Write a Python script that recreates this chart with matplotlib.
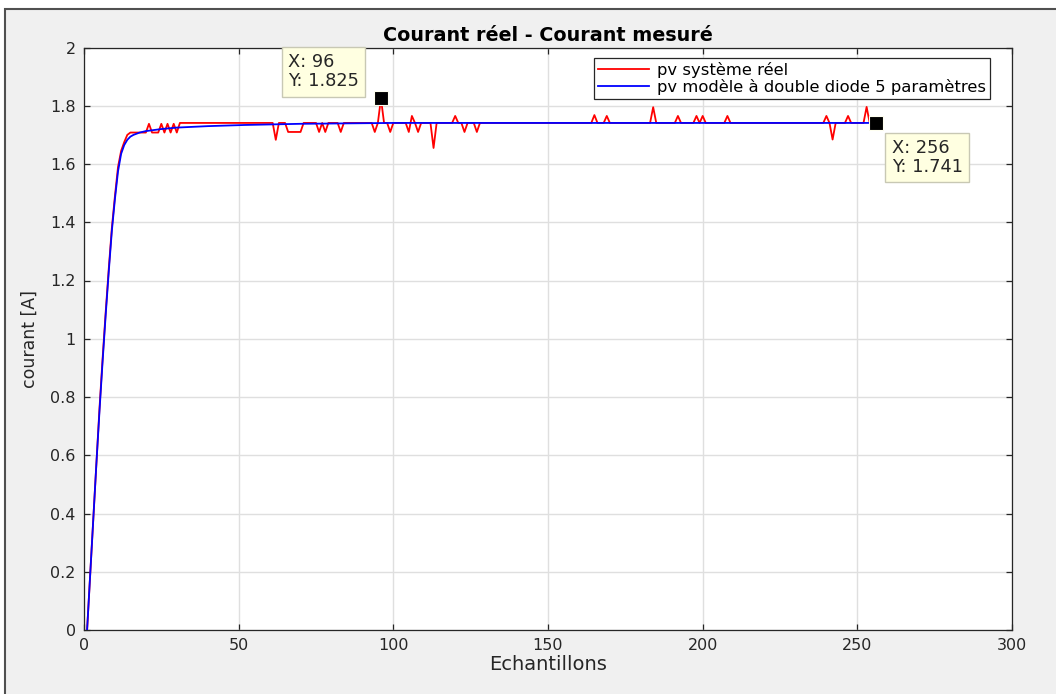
import matplotlib
matplotlib.use("Agg")
import matplotlib.pyplot as plt
from matplotlib.patches import Rectangle

# ---------------- data ----------------
red_x = [1, 2, 3, 4, 5, 6, 7, 8, 9, 10, 11, 12, 13, 14, 15, 20, 21, 22, 24, 25, 26, 27, 28, 29, 30, 31,
         61, 62, 63, 65, 66, 70, 71,
         75, 76, 77, 78, 79,
         82, 83, 84,
         93, 94, 95, 96, 97, 98, 99, 100,
         104, 105, 106, 107, 108, 109,
         112, 113, 114,
         119, 120, 121, 122, 123, 124, 126, 127, 128,
         164, 165, 166, 168, 169, 170,
         183, 184, 185,
         191, 192, 193,
         197, 198, 199, 200, 201,
         207, 208, 209,
         239, 240, 241, 242, 243,
         246, 247, 248,
         252, 253, 254, 256]
red_y = [0.0, 0.19, 0.38, 0.57, 0.76, 0.93, 1.09, 1.24, 1.38, 1.49, 1.59, 1.645, 1.675, 1.70, 1.708, 1.708,
         1.738, 1.708, 1.708, 1.738, 1.708, 1.738, 1.708, 1.738, 1.708, 1.741,
         1.741, 1.683, 1.741, 1.741, 1.71, 1.71, 1.741,
         1.741, 1.71, 1.741, 1.71, 1.741,
         1.741, 1.71, 1.741,
         1.741, 1.71, 1.741, 1.825, 1.741, 1.741, 1.71, 1.741,
         1.741, 1.71, 1.765, 1.741, 1.71, 1.741,
         1.741, 1.655, 1.741,
         1.741, 1.765, 1.741, 1.741, 1.71, 1.741, 1.741, 1.71, 1.741,
         1.741, 1.768, 1.741, 1.741, 1.765, 1.741,
         1.741, 1.795, 1.741,
         1.741, 1.765, 1.741,
         1.741, 1.765, 1.741, 1.765, 1.741,
         1.741, 1.765, 1.741,
         1.741, 1.765, 1.741, 1.684, 1.741,
         1.741, 1.765, 1.741,
         1.741, 1.796, 1.741, 1.741]

blue_x = [1, 2, 3, 4, 5, 6, 7, 8, 9, 10, 11, 12, 13, 14, 15, 16, 18, 20, 25, 30, 40, 52, 70, 100, 256]
blue_y = [0.0, 0.19, 0.38, 0.57, 0.75, 0.92, 1.08, 1.23, 1.37, 1.48, 1.575, 1.635, 1.665, 1.683, 1.694,
          1.700, 1.708, 1.713, 1.720, 1.725, 1.730, 1.734, 1.738, 1.741, 1.741]

tip_x = [96, 256]
tip_y = [1.825, 1.741]

series_labels = ["pv système réel", "pv modèle à double diode 5 paramètres"]
title_text = "Courant réel - Courant mesuré"
x_label = "Echantillons"
y_label = "courant [A]"
x_ticks = [0, 50, 100, 150, 200, 250, 300]
y_ticks = [0, 0.2, 0.4, 0.6, 0.8, 1.0, 1.2, 1.4, 1.6, 1.8, 2.0]
y_tick_labels = ["0", "0.2", "0.4", "0.6", "0.8", "1", "1.2", "1.4", "1.6", "1.8", "2"]

# ---------------- figure ----------------
W, H = 1056, 694
plt.rcParams['font.family'] = ['DejaVu Sans']
fig = plt.figure(figsize=(W / 100, H / 100), dpi=100, facecolor='white')

# window frame
frame = Rectangle((5 / W, -0.02), 1.05, (H - 9) / H + 0.02,
                  transform=fig.transFigure, facecolor='#f0f0f0',
                  edgecolor='#505050', linewidth=1.5, zorder=-10)
fig.add_artist(frame)

ax = fig.add_axes([84 / W, 64 / H, 928 / W, 582.5 / H])
ax.set_zorder(1)
ax.set_facecolor('white')

axc = '#262626'
ax.plot(red_x, red_y, color='red', lw=1.3, label=series_labels[0], zorder=3)
ax.plot(blue_x, blue_y, color='blue', lw=1.3, label=series_labels[1], zorder=3)

ax.set_xlim(0, 300)
ax.set_ylim(0, 2)
ax.set_xticks(x_ticks)
ax.set_xticklabels([str(t) for t in x_ticks])
ax.set_yticks(y_ticks)
ax.set_yticklabels(y_tick_labels)
ax.grid(True, color='#dfdfdf', lw=1.0)
ax.set_axisbelow(True)
for s in ax.spines.values():
    s.set_color(axc)
    s.set_linewidth(0.9)
ax.tick_params(direction='in', length=4, width=0.9, color=axc, labelcolor=axc,
               labelsize=11.5, top=True, right=True)
ax.tick_params(axis='x', pad=6)
ax.tick_params(axis='y', pad=6)

ax.set_title(title_text, fontsize=13.8, fontweight='bold', color='black', pad=5)
ax.set_xlabel(x_label, fontsize=14, color=axc, labelpad=1)
ax.set_ylabel(y_label, fontsize=12.5, color=axc, labelpad=8)

leg = ax.legend(loc='upper right', bbox_to_anchor=(0.976, 0.982), borderaxespad=0,
                fancybox=False, edgecolor=axc, framealpha=1, fontsize=11.8,
                handlelength=3.1, handletextpad=0.45, labelspacing=0.05, borderpad=0.25)
leg.get_frame().set_linewidth(0.9)

# data tips
ax.plot(tip_x, tip_y, linestyle='none', marker='s', markersize=9.5,
        color='black', mec='#fffff0', mew=0.8, zorder=5)
offsets = [(-93, 45), (16, -16)]
for tx, ty, off in zip(tip_x, tip_y, offsets):
    ax.annotate(f"X: {tx:g}\nY: {ty:g}", xy=(tx, ty), xytext=off,
                textcoords='offset pixels', ha='left', va='top', fontsize=12.8,
                color=axc, linespacing=1.05, zorder=6, annotation_clip=False,
                bbox=dict(boxstyle='square,pad=0.36', fc='#ffffe1', ec='#c8c8b4', lw=1.0))

fig.savefig('out.png', dpi=100, facecolor=fig.get_facecolor())
